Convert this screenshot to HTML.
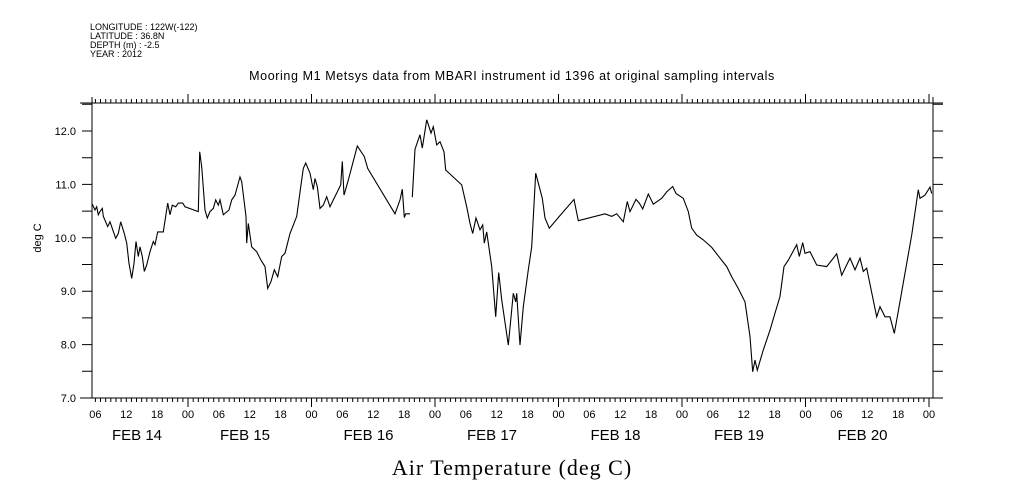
<!DOCTYPE html>
<html><head><meta charset="utf-8"><style>
body{margin:0;background:#fff}
svg{display:block;font-family:"Liberation Sans",sans-serif}
</style></head><body>
<svg id="chart" width="1009" height="504" viewBox="0 0 1009 504">
<g font-size="9" fill="#000">
<text x="90" y="30">LONGITUDE : 122W(-122)</text>
<text x="90" y="39">LATITUDE : 36.8N</text>
<text x="90" y="48">DEPTH (m) : -2.5</text>
<text x="90" y="57">YEAR : 2012</text>
</g>
<text x="512" y="80" font-size="12.5" text-anchor="middle" letter-spacing="0.6">Mooring M1 Metsys data from MBARI instrument id 1396 at original sampling intervals</text>
<text x="0" y="0" font-size="11" text-anchor="middle" transform="translate(41,238) rotate(-90)">deg C</text>
<text x="512" y="475" font-size="22" text-anchor="middle" font-family="Liberation Serif,serif" letter-spacing="1">Air Temperature (deg C)</text>
<g id="axes"></g>
<path id="line1" fill="none" stroke="#000" stroke-width="1.1"/>
<path id="line2" fill="none" stroke="#000" stroke-width="1.1"/>
</svg>
<script>
// hours since 2012-02-14 00:00, air temperature (deg C)
const seg1Hours=[5.40,5.93,6.26,6.57,6.90,7.35,7.54,8.40,8.84,9.95,10.45,10.92,11.62,12.09,12.53,13.06,13.51,13.89,14.34,14.67,15.12,15.51,15.97,16.62,17.26,17.59,18.11,19.20,20.05,20.50,20.95,21.61,22.11,22.97,23.42,26.00,26.27,26.66,27.30,27.75,28.27,28.92,29.38,29.89,30.22,30.86,31.97,32.49,33.13,34.10,34.44,35.27,35.41,35.72,36.38,37.35,38.19,38.96,39.49,40.13,40.77,41.43,42.21,42.85,43.82,45.12,45.96,46.41,46.87,47.71,48.35,48.68,49.13,49.65,50.29,50.95,51.59,52.24,53.01,53.67,53.98,54.31,55.15,56.90,58.26,58.92,64.23,65.20,65.64,66.03,66.31,67.14];
const seg1Temps=[10.63,10.52,10.58,10.43,10.49,10.55,10.40,10.21,10.30,9.99,10.08,10.30,10.08,9.90,9.52,9.24,9.52,9.93,9.65,9.83,9.65,9.37,9.49,9.74,9.93,9.87,10.11,10.11,10.65,10.43,10.61,10.58,10.65,10.65,10.58,10.49,11.61,11.33,10.52,10.37,10.49,10.55,10.71,10.61,10.71,10.43,10.52,10.71,10.80,11.14,11.05,10.40,9.90,10.27,9.83,9.74,9.58,9.46,9.05,9.18,9.40,9.27,9.65,9.71,10.08,10.40,10.99,11.30,11.40,11.21,10.90,11.11,10.96,10.55,10.61,10.77,10.58,10.71,10.86,10.99,11.43,10.80,11.08,11.72,11.52,11.30,10.45,10.71,10.91,10.38,10.45,10.45];
const seg2Hours=[67.59,68.11,69.08,69.53,70.39,70.83,71.22,71.67,72.33,72.97,73.75,74.08,77.19,78.16,78.80,79.33,79.97,80.74,81.27,81.58,82.05,83.02,83.80,84.38,84.96,86.24,87.21,87.68,87.88,88.52,89.16,90.13,90.79,91.57,92.85,93.37,94.21,96.15,99.01,99.85,105.04,106.34,107.31,108.59,109.37,109.89,111.06,111.70,112.36,113.45,114.42,116.05,117.03,118.19,118.83,120.25,121.22,121.88,122.85,124.14,125.77,127.38,128.68,129.65,130.94,132.24,133.21,133.74,134.18,134.63,135.80,137.10,138.07,139.04,139.82,140.65,142.29,142.79,143.45,143.90,144.87,146.17,148.12,150.06,151.03,152.64,153.61,154.59,155.23,155.89,157.83,158.47,159.45,160.42,161.26,161.84,164.64,165.92,166.25,167.22,168.19,168.52];
const seg2Temps=[10.76,11.66,11.93,11.68,12.21,12.08,11.96,12.08,11.74,11.80,11.61,11.27,10.99,10.58,10.27,10.08,10.37,10.15,10.24,9.90,10.11,9.46,8.52,9.35,8.84,7.99,8.96,8.80,8.96,7.99,8.71,9.40,9.83,11.21,10.74,10.37,10.18,10.40,10.72,10.32,10.45,10.40,10.45,10.30,10.68,10.49,10.72,10.65,10.54,10.82,10.63,10.74,10.86,10.96,10.83,10.74,10.49,10.18,10.05,9.96,9.82,9.62,9.46,9.27,9.05,8.80,8.15,7.49,7.71,7.52,7.90,8.27,8.59,8.90,9.46,9.58,9.87,9.65,9.91,9.71,9.74,9.49,9.46,9.70,9.30,9.62,9.40,9.62,9.37,9.43,8.52,8.71,8.52,8.52,8.21,8.52,10.05,10.90,10.74,10.80,10.95,10.83];
const yTickLabels=["7.0","8.0","9.0","10.0","11.0","12.0"];
const hourLabels=["06","12","18","00"];
const dayLabels=["FEB 14","FEB 15","FEB 16","FEB 17","FEB 18","FEB 19","FEB 20"];

const X0=64.5,PXH=5.146,Y0=131,PXD=53.4;
const xs=h=>X0+h*PXH;
const ys=v=>Y0+(12-v)*PXD;
const L=92,R=933,T=103,B=398;
const NS="http://www.w3.org/2000/svg";
const ax=document.getElementById('axes');
function mk(tag,attrs,parent){const e=document.createElementNS(NS,tag);for(const k in attrs)e.setAttribute(k,attrs[k]);(parent||ax).appendChild(e);return e;}
let d=`M80 ${T}H943M80 ${B}H943M${L} 97V${B}M${R} 97V${B}`;
for(let h=Math.ceil((L-X0)/PXH);xs(h)<=R;h++){
  const x=xs(h).toFixed(1);const maj=h%24===0;const len=maj?9:4;
  d+=`M${x} ${T}v-${len}M${x} ${B}v${len}`;
}
for(let v=7;v<=12.5;v+=0.5){const y=ys(v).toFixed(1);d+=`M${L} ${y}h-10M${R} ${y}h10`;}
const ap=mk('path',{d:d,stroke:'#000','stroke-width':1,fill:'none'});


yTickLabels.forEach(s=>{
  const t=mk('text',{x:76,y:(ys(parseFloat(s))+4).toFixed(1),'font-size':11,'text-anchor':'end'});
  
  
  t.textContent=s;
});
for(let h=6;h<=168;h+=6){
  const t=mk('text',{x:xs(h).toFixed(1),y:418,'font-size':11,'text-anchor':'middle'});
  
  
  t.textContent=hourLabels[(h/6-1)%4];
}
dayLabels.forEach((s,i)=>{
  const x=i===0?137:xs(i*24)+57;
  const t=mk('text',{x:x.toFixed(1),y:440,'font-size':15,'text-anchor':'middle'});
  
  
  t.textContent=s;
});
const pathOf=(H,V)=>H.map((h,i)=>(i?'L':'M')+xs(h).toFixed(1)+' '+ys(V[i]).toFixed(1)).join('');
document.getElementById('line1').setAttribute('d',pathOf(seg1Hours,seg1Temps));
document.getElementById('line2').setAttribute('d',pathOf(seg2Hours,seg2Temps));
</script>
</body></html>
